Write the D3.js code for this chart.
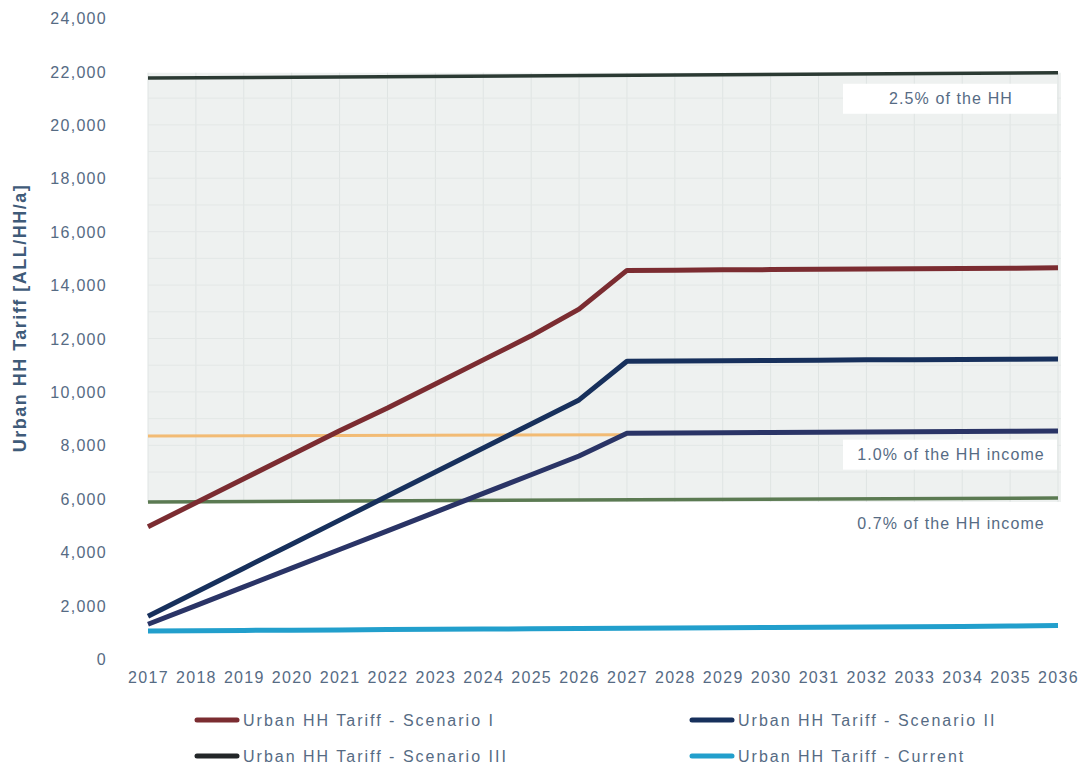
<!DOCTYPE html>
<html>
<head>
<meta charset="utf-8">
<script src="https://cdn.jsdelivr.net/npm/d3@7"></script>
<style>
  html, body { margin: 0; padding: 0; background: #ffffff; }
  svg { display: block; }
  text { font-family: "Liberation Sans", Arial, sans-serif; }
</style>
</head>
<body>
<svg id="chart" width="1088" height="765"></svg>
<script>
// Urban household tariff scenarios vs affordability thresholds
const years = [2017, 2018, 2019, 2020, 2021, 2022, 2023, 2024, 2025, 2026,
               2027, 2028, 2029, 2030, 2031, 2032, 2033, 2034, 2035, 2036];

const scenarioI   = [4950, 5850, 6750, 7650, 8550, 9400, 10300, 11200, 12100, 13100,
                     14550, 14560, 14570, 14580, 14590, 14600, 14610, 14620, 14630, 14650];
const scenarioII  = [1600, 2500, 3400, 4300, 5200, 6100, 7000, 7900, 8800, 9700,
                     11150, 11160, 11170, 11180, 11190, 11200, 11200, 11210, 11220, 11230];
const scenarioIII = [1300, 2000, 2700, 3400, 4100, 4800, 5500, 6200, 6900, 7600,
                     8450, 8460, 8470, 8480, 8490, 8500, 8510, 8520, 8530, 8540];
const current     = [1050, 1060, 1070, 1080, 1090, 1100, 1110, 1120, 1130, 1140,
                     1150, 1160, 1170, 1180, 1190, 1200, 1210, 1220, 1235, 1250];

// Affordability thresholds (share of household income), as [year, value] points
const threshold25 = [[2017, 21750], [2036, 21950]];
const threshold10 = [[2017, 8350], [2027, 8400]];
const threshold07 = [[2017, 5880], [2036, 6030]];

const yTicks = [0, 2000, 4000, 6000, 8000, 10000, 12000, 14000, 16000, 18000, 20000, 22000, 24000];

const seriesNames = ["Urban HH Tariff - Scenario I", "Urban HH Tariff - Scenario II",
                     "Urban HH Tariff - Scenario III", "Urban HH Tariff - Current"];

const svg = d3.select("#chart");
const x = d3.scaleLinear().domain([2017, 2036]).range([148, 1058]);
const y = d3.scaleLinear().domain([0, 24000]).range([659, 18]);

const textColor = "#566b84";

// Shaded band between the 0.7% and 2.5% thresholds, with a faint grid
const band = svg.append("g");
const bandTop = y(d3.max(threshold25, d => d[1]));
const bandBottom = y(d3.min(threshold07, d => d[1]));
band.append("rect")
  .attr("x", x(2017)).attr("y", bandTop)
  .attr("width", x(2036) - x(2017) + 3).attr("height", bandBottom - bandTop)
  .attr("fill", "#eef1f0");
band.selectAll("line.v").data(years).join("line")
  .attr("x1", d => x(d)).attr("x2", d => x(d))
  .attr("y1", bandTop).attr("y2", bandBottom)
  .attr("stroke", "#dfe4e3").attr("stroke-width", 1);
band.selectAll("line.h").data(d3.range(7000, 22000, 1000)).join("line")
  .attr("x1", x(2017)).attr("x2", x(2036) + 3)
  .attr("y1", d => y(d)).attr("y2", d => y(d))
  .attr("stroke", "#e3e7e6").attr("stroke-width", 1);

// Y axis labels
const yAxis = d3.axisLeft(y).tickValues(yTicks).tickSize(0).tickPadding(0)
  .tickFormat(d => d === 0 ? "0" : d3.format(",")(d));
svg.append("g").attr("transform", "translate(107,0)").call(yAxis)
  .call(g => g.select(".domain").remove())
  .selectAll("text")
  .attr("fill", textColor).attr("font-size", 16)
  .attr("letter-spacing", "1.3px")
  .attr("dy", "0.35em");

// X axis labels
const xAxis = d3.axisBottom(x).tickValues(years).tickSize(0).tickPadding(0)
  .tickFormat(d3.format("d"));
svg.append("g").attr("transform", "translate(0,672)").call(xAxis)
  .call(g => g.select(".domain").remove())
  .selectAll("text")
  .attr("fill", textColor).attr("font-size", 16)
  .attr("letter-spacing", "1.3px");

// Y axis title
svg.append("text")
  .attr("transform", "translate(26,318) rotate(-90)")
  .attr("text-anchor", "middle")
  .attr("fill", "#3f5b79").attr("font-size", 18).attr("font-weight", "bold")
  .attr("letter-spacing", "1.5px")
  .text("Urban HH Tariff [ALL/HH/a]");

const line = d3.line().x(d => x(d[0])).y(d => y(d[1]));

// Threshold lines
svg.append("path").datum(threshold25).attr("d", line)
  .attr("fill", "none").attr("stroke", "#2b3a33").attr("stroke-width", 3.5);
svg.append("path").datum(threshold10).attr("d", line)
  .attr("fill", "none").attr("stroke", "#f2bb74").attr("stroke-width", 3);
svg.append("path").datum(threshold07).attr("d", line)
  .attr("fill", "none").attr("stroke", "#5b7a52").attr("stroke-width", 3.5);

// Threshold labels on white boxes
const labels = [
  { text: "2.5% of the HH", value: 21950, offset: 26, box: true },
  { text: "1.0% of the HH income", value: 8400, offset: 20, box: true },
  { text: "0.7% of the HH income", value: 6030, offset: 25, box: false }
];
labels.forEach(l => {
  const cy = y(l.value) + l.offset;
  if (l.box) {
    svg.append("rect").attr("x", 843).attr("y", cy - 15)
      .attr("width", 214).attr("height", 30).attr("fill", "#ffffff");
  }
  svg.append("text").attr("x", 951).attr("y", cy).attr("dy", "0.35em")
    .attr("text-anchor", "middle").attr("fill", textColor)
    .attr("font-size", 16).attr("letter-spacing", "1.1px")
    .text(l.text);
});

// Tariff series
const series = [
  { name: seriesNames[0], values: scenarioI, color: "#7b2c31" },
  { name: seriesNames[1], values: scenarioII, color: "#17305c" },
  { name: seriesNames[2], values: scenarioIII, color: "#2a3466" },
  { name: seriesNames[3], values: current, color: "#229fcc" }
];
[series[3], series[2], series[1], series[0]].forEach(s => {
  svg.append("path")
    .datum(years.map((yr, i) => [yr, s.values[i]]))
    .attr("d", line)
    .attr("fill", "none").attr("stroke", s.color)
    .attr("stroke-width", 5).attr("stroke-linejoin", "round");
});

// Legend
const legendItems = [
  { name: seriesNames[0], color: "#7b2c31", lx: 197, ly: 720 },
  { name: seriesNames[1], color: "#17305c", lx: 692, ly: 720 },
  { name: seriesNames[2], color: "#222628", lx: 197, ly: 756 },
  { name: seriesNames[3], color: "#229fcc", lx: 692, ly: 756 }
];
const lg = svg.append("g").selectAll("g").data(legendItems).join("g")
  .attr("transform", d => `translate(${d.lx},${d.ly})`);
lg.append("line").attr("x1", 0).attr("x2", 40).attr("y1", 0).attr("y2", 0)
  .attr("stroke", d => d.color).attr("stroke-width", 5).attr("stroke-linecap", "round");
lg.append("text").attr("x", 46).attr("dy", "0.35em")
  .attr("fill", textColor).attr("font-size", 16).attr("letter-spacing", "2px")
  .text(d => d.name);
</script>
</body>
</html>
